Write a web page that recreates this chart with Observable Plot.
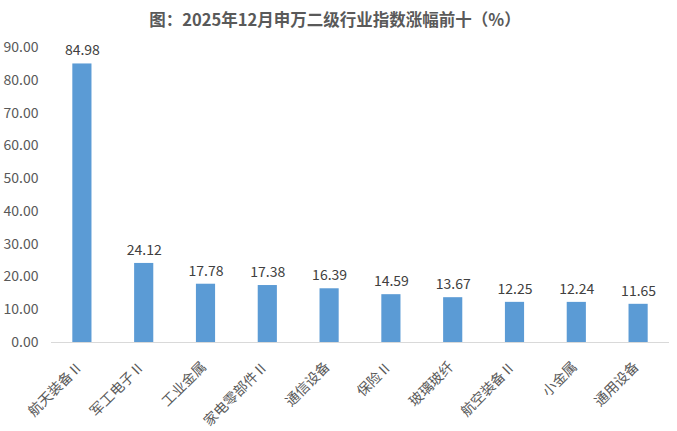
<!DOCTYPE html>
<html>
<head>
<meta charset="utf-8">
<script src="https://cdn.jsdelivr.net/npm/d3@7"></script>
<script src="https://cdn.jsdelivr.net/npm/@observablehq/plot@0.6"></script>
<style>
  html, body { margin: 0; padding: 0; background: #fff; }
  #chart svg { display: block; }
</style>
</head>
<body>
<div id="chart"></div>
<script>
const title = "图：2025年12月申万二级行业指数涨幅前十（%）";
const categories = ["航天装备Ⅱ", "军工电子Ⅱ", "工业金属", "家电零部件Ⅱ", "通信设备", "保险Ⅱ", "玻璃玻纤", "航空装备Ⅱ", "小金属", "通用设备"];
const values = [84.98, 24.12, 17.78, 17.38, 16.39, 14.59, 13.67, 12.25, 12.24, 11.65];
const yTicks = [0, 10, 20, 30, 40, 50, 60, 70, 80, 90];

const data = categories.map((c, i) => ({ cat: c, val: values[i] }));
const font = "'Noto Sans CJK SC', 'Noto Sans', sans-serif";

const chart = Plot.plot({
  width: 677,
  height: 431,
  marginTop: 47,
  marginBottom: 89,
  marginLeft: 51,
  marginRight: 8,
  style: { fontFamily: font, fontSize: "13px", color: "#595959", background: "#fff" },
  x: { domain: categories, paddingInner: 0.69, paddingOuter: 0.345, round: false, label: null },
  y: { domain: [0, 90], label: null },
  marks: [
    Plot.axisY({ ticks: yTicks, tickFormat: d => d.toFixed(2), tickSize: 0, tickPadding: 13, label: null, fill: "#595959", fontSize: 14 }),
    Plot.axisX({ tickSize: 0, tickRotate: -45, tickPadding: 22, dx: -2, label: null, fill: "#595959", fontSize: 14 }),
    Plot.barY(data, { x: "cat", y: "val", fill: "#5B9BD5" }),
    Plot.ruleY([0], { stroke: "#d9d9d9", strokeWidth: 1 }),
    Plot.text(data, { x: "cat", y: "val", text: d => d.val.toFixed(2), dy: -13, fill: "#404040", fontSize: 14 }),
    Plot.text([title], { frameAnchor: "top", dx: -25.5, dy: -33, fontSize: 16.5, fontWeight: "bold", fill: "#595959" })
  ]
});
document.getElementById("chart").appendChild(chart);
</script>
</body>
</html>
